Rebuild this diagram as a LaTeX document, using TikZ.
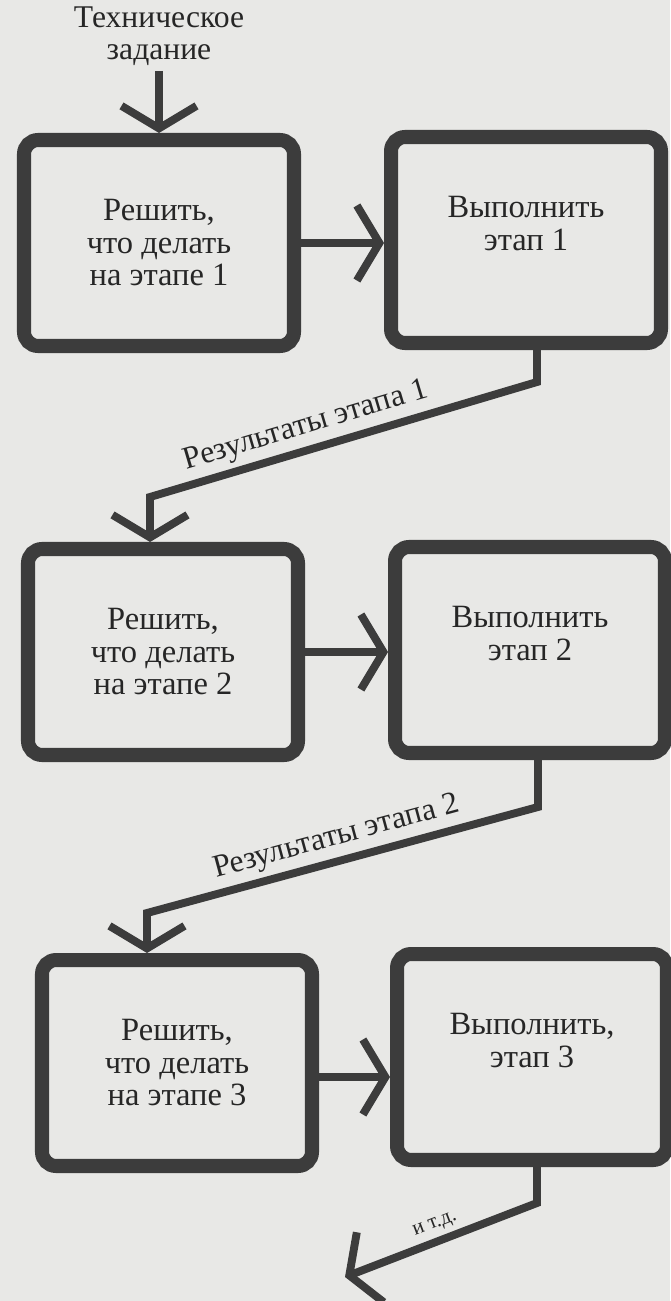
\documentclass[tikz,border=0pt]{standalone}
\usepackage{fontspec}
\setmainfont{Liberation Serif}
\usepackage{tikz}
\usetikzlibrary{arrows.meta,positioning}
\definecolor{inkgray}{HTML}{3C3C3C}
\definecolor{papergray}{HTML}{E8E8E6}
\definecolor{printblack}{HTML}{262626}

\begin{document}
\begin{tikzpicture}[
    x=0.02cm, y=-0.02cm,
    stagebox/.style={rectangle, draw=inkgray, line width=8pt, rounded corners=8pt, minimum width=5.4cm, minimum height=4.12cm, align=center, text=printblack, font=\fontsize{18.5}{18.5}\selectfont},
    runbox/.style={stagebox, text depth=19pt},
    flow/.style={draw=inkgray, line width=4.5pt, -{Straight Barb[length=0.45cm, width=1.5cm]}},
    flowlabel/.style={text=printblack, font=\fontsize{18}{18}\selectfont, inner sep=3pt}
]
\useasboundingbox (0,0) rectangle (670,1301);
\fill[papergray] (0,0) rectangle (670,1301);

\node[flowlabel, align=center] (task) at (159,36) {Техническое\\задание};

\node[stagebox] (decide1) at (159,243) {Решить,\\что делать\\на этапе 1};
\node[runbox] (run1) at (526,240) {Выполнить\\этап 1};
\node[stagebox] (decide2) at (163,652) {Решить,\\что делать\\на этапе 2};
\node[runbox] (run2) at (530,650) {Выполнить\\этап 2};
\node[stagebox] (decide3) at (177,1063) {Решить,\\что делать\\на этапе 3};
\node[runbox] (run3) at (532,1057) {Выполнить,\\этап 3};

% bends of the result lines
\coordinate (bend1a) at (537,382);
\coordinate (bend1b) at (150,497);
\coordinate (bend2a) at (538,807);
\coordinate (bend2b) at (147,913);
\coordinate (bend3a) at (537,1203);
\coordinate (more) at (345,1277);

\draw[flow] (task) -- (decide1);
\draw[flow] (decide1) -- (decide1 -| run1.west);
\draw[flow] (decide2) -- (decide2 -| run2.west);
\draw[flow] ([yshift=-0.28cm]decide3.east) -- ([yshift=-0.28cm]decide3.east -| run3.west);

\draw[flow] (run1.south -| bend1a) -- (bend1a) -- node[flowlabel, sloped, above, pos=0.58] {Результаты этапа 1} (bend1b) -- (bend1b |- decide2.north);
\draw[flow] (run2.south -| bend2a) -- (bend2a) -- node[flowlabel, sloped, above, pos=0.5] {Результаты этапа 2} (bend2b) -- (bend2b |- decide3.north);
\draw[flow] (run3.south -| bend3a) -- (bend3a) -- node[flowlabel, sloped, above, pos=0.5, font=\fontsize{12}{14}\selectfont] {и т.д.} (more);
\end{tikzpicture}
\end{document}
